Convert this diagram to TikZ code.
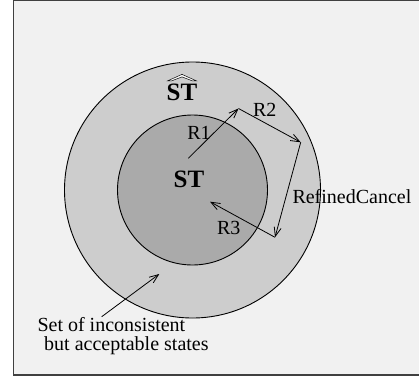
\documentclass[tikz,border=0pt]{standalone}
\usepackage{fontspec}
\setmainfont{Liberation Serif}
\usetikzlibrary{arrows.meta}
\definecolor{bg}{HTML}{F1F1F1}
\definecolor{ring}{HTML}{CDCDCD}
\definecolor{core}{HTML}{AAAAAA}
\tikzset{
  lab/.style={inner sep=0pt, font=\fontsize{20}{22}\selectfont},
  big/.style={inner sep=0pt, font=\fontsize{25}{28}\selectfont\bfseries},
  arr/.style={line width=0.8pt, -{Straight Barb[length=9pt,width=7pt]}},
  disc/.style={draw=black, line width=0.9pt},
  hat/.style={fill=white, draw=black, line width=0.5pt, line join=miter}
}
\begin{document}
\begin{tikzpicture}[x=1pt,y=-1pt]
\useasboundingbox (0,0) rectangle (419,380);
\begin{scope}
\clip (0,0) rectangle (419,380);
\draw[fill=bg, draw=black!75, line width=1.4pt] (13.5,0.7) rectangle (430,375);
\end{scope}
\fill[ring, disc] (192.5,190) circle (128);
\fill[core, disc] (192.5,190) circle (75);
\node[big] (sthat) at (182,92.5) {ST};
\draw[hat] ([xshift=-14.5pt,yshift=3pt]sthat.north) -- ([yshift=9.5pt]sthat.north)
  -- ([xshift=14.5pt,yshift=3pt]sthat.north) -- ([xshift=10.5pt,yshift=3pt]sthat.north)
  -- ([yshift=7pt]sthat.north) -- ([xshift=-10.5pt,yshift=3pt]sthat.north) -- cycle;
\node[big] (st) at (189,179.5) {ST};
\node[lab] (r1) at (199,132.7) {R1};
\node[lab] (r2) at (264.7,109.7) {R2};
\node[lab] (r3) at (228.8,227.5) {R3};
\node[lab, anchor=west] (rc) at (292.3,196.7) {RefinedCancel};
\node[lab, anchor=base west] (la) at (37.3,331.7) {Set of inconsistent};
\node[lab, anchor=base west] (lb) at (44,350) {but acceptable states};
\coordinate (p0) at (188.3,158.3);
\coordinate (p1) at (238.5,108.5);
\coordinate (p2) at (300.7,142.3);
\coordinate (p3) at (275,237.3);
\coordinate (p4) at (210,201.7);
\coordinate (q0) at (101.7,316.7);
\coordinate (q1) at (159.3,274);
\draw[arr] (p0) -- (p1);
\draw[arr] (p1) -- (p2);
\draw[arr] (p2) -- (p3);
\draw[arr] (p3) -- (p4);
\draw[arr] (q0) -- (q1);
\end{tikzpicture}
\end{document}
